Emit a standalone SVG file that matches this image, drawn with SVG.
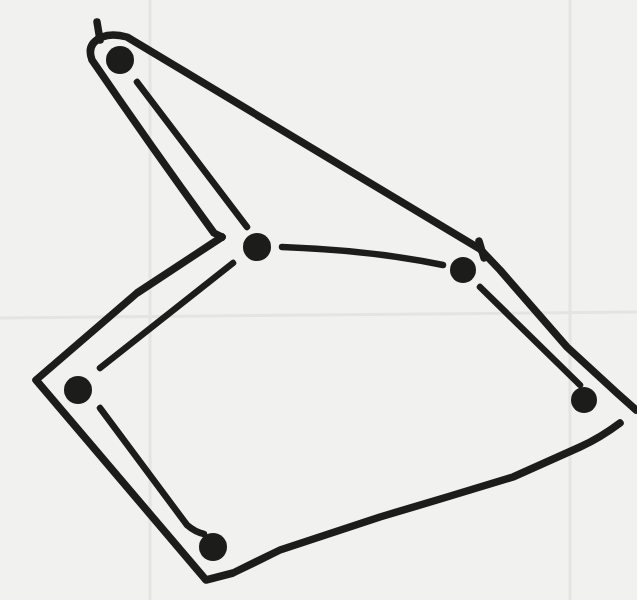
<svg xmlns="http://www.w3.org/2000/svg" width="637" height="600" viewBox="0 0 637 600">
<style>
.ink{fill:none;stroke:#1c1c1a;stroke-linecap:round;stroke-linejoin:round}
.outline{stroke-width:7.5}
.edge{stroke-width:6.5}
.dot{fill:#1c1c1a}
</style>
<rect width="637" height="600" fill="#f1f1ef"/>
<g id="faint" stroke="#e4e4e2" stroke-width="3" fill="none">
<path d="M0,318 L637,312"/>
<path d="M150,0 L150,600"/>
<path d="M570,0 L570,600"/>
</g>
<g id="outline" class="ink outline">
<path d="M222,237 L214,233 Q150,145 92,60 Q86,44 102,37 Q112,33 127,37 L480,249 L500,270 L567,347 L617,393 L636,410"/>
<path d="M620,423 Q600,438 580,447 L513,477 L447,497 L380,517 L280,550 L233,573 L206,580 L36,380 L137,293 L222,237"/>
<path d="M97,22 L100,40"/>
<path d="M479,241 L484,258"/>
</g>
<g id="connectors" class="ink edge">
<path id="e1" d="M137,82 L247,227"/>
<path id="e2" d="M282,247 Q370,250 443,265"/>
<path id="e3" d="M480,287 L580,385"/>
<path id="e4" d="M233,263 L100,368"/>
<path id="e5" d="M100,408 L187,525 Q195,532 204,534"/>
</g>
<g id="n1"><circle class="dot" cx="120" cy="60" r="14"/></g>
<g id="n2"><circle class="dot" cx="257" cy="247" r="14"/></g>
<g id="n3"><circle class="dot" cx="463" cy="270" r="13"/></g>
<g id="n4"><circle class="dot" cx="584" cy="400" r="13"/></g>
<g id="n5"><circle class="dot" cx="78" cy="390" r="14"/></g>
<g id="n6"><circle class="dot" cx="213" cy="547" r="14"/></g>
</svg>
